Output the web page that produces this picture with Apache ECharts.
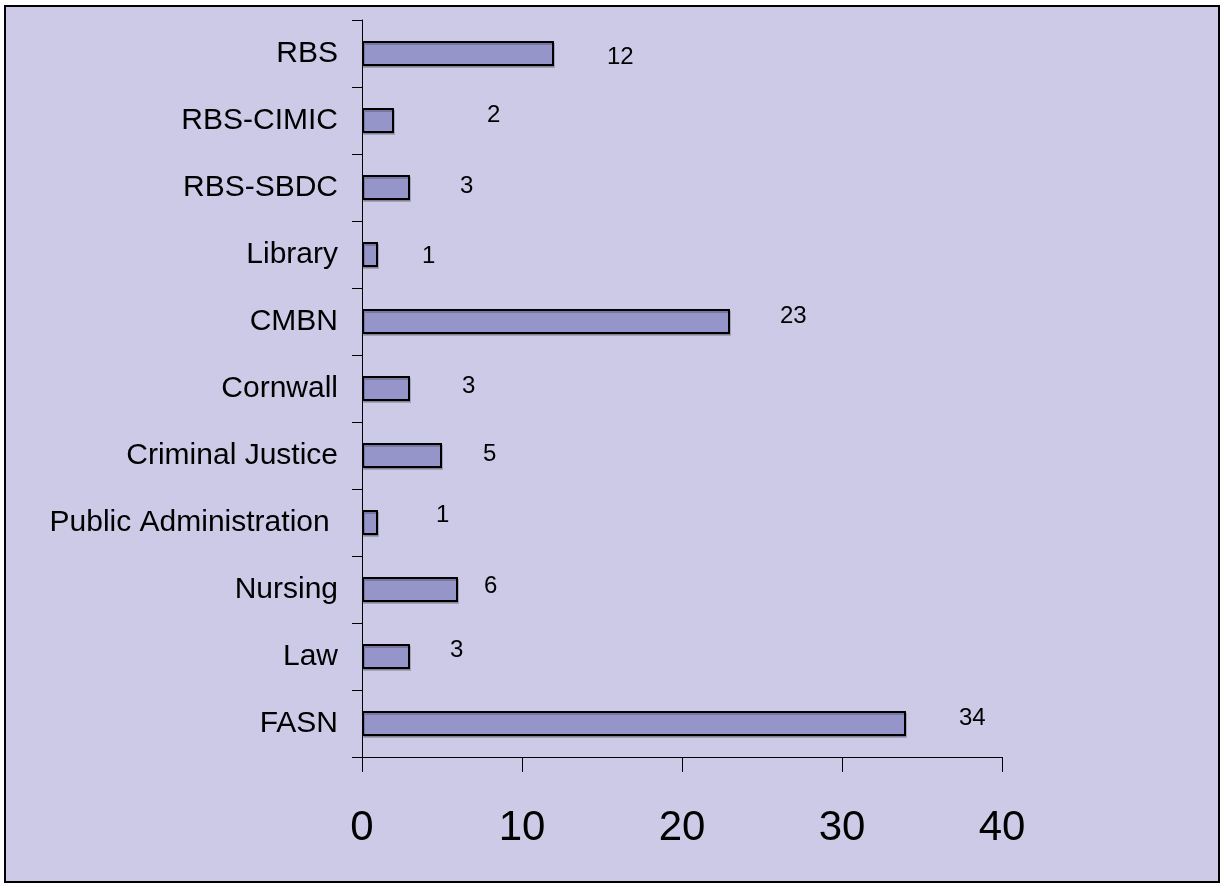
<!DOCTYPE html>
<html>
<head>
<meta charset="utf-8">
<script src="https://cdn.jsdelivr.net/npm/echarts@6/dist/echarts.min.js"></script>
<style>
  html, body { margin: 0; padding: 0; background: #ffffff; }
  #chart { width: 1224px; height: 888px; }
</style>
</head>
<body>
<div id="chart"></div>
<script>
// ---- data ----
const categories = ['RBS', 'RBS-CIMIC', 'RBS-SBDC', 'Library', 'CMBN', 'Cornwall',
  'Criminal Justice', 'Public Administration ', 'Nursing', 'Law', 'FASN'];
const counts = [12, 2, 3, 1, 23, 3, 5, 1, 6, 3, 34];
const valueTicks = [0, 10, 20, 30, 40];

// per-label nudges (style only): [dx, dy] in px, as the labels were placed by hand in the original
const labelNudges = [[53, 4], [93, -5], [50, -1], [44, 2], [50, -5], [52, -2],
  [41, -1], [58, -7], [26, -3], [40, -6], [53, -5]];

const BG = '#CCCAE6';
const BAR = '#9595C9';
const FONT = 'Liberation Sans, Arial, sans-serif';

const chart = echarts.init(document.getElementById('chart'), null, { renderer: 'canvas' });

const seriesData = counts.map((v, i) => ({
  value: v,
  label: { offset: labelNudges[i] }
}));

chart.setOption({
  backgroundColor: '#ffffff',
  animation: false,
  graphic: {
    z: -100,
    elements: [{
      type: 'rect',
      z: -100,
      silent: true,
      shape: { x: 5, y: 6, width: 1214, height: 876 },
      style: { fill: BG, stroke: '#000000', lineWidth: 2 }
    }]
  },
  grid: { left: 362, top: 20, right: 222, bottom: 131, containLabel: false },
  xAxis: {
    type: 'value',
    min: valueTicks[0],
    max: valueTicks[valueTicks.length - 1],
    interval: valueTicks[1] - valueTicks[0],
    axisLine: { show: true, lineStyle: { color: '#000000', width: 1 } },
    axisTick: { show: true, length: 15, lineStyle: { color: '#000000', width: 1 } },
    splitLine: { show: false },
    axisLabel: { fontSize: 42, color: '#000000', fontFamily: FONT, margin: 50 }
  },
  yAxis: {
    type: 'category',
    data: categories,
    inverse: true,
    axisLine: { show: true, lineStyle: { color: '#000000', width: 1 } },
    axisTick: { show: true, length: 10, alignWithLabel: false, lineStyle: { color: '#000000', width: 1 } },
    axisLabel: { fontSize: 30, color: '#000000', fontFamily: FONT, margin: 24 },
    splitLine: { show: false }
  },
  series: [{
    type: 'bar',
    data: seriesData,
    barWidth: 25,
    itemStyle: {
      color: BAR,
      borderColor: '#000000',
      borderWidth: 2,
      shadowColor: 'rgba(0,0,0,0.2)',
      shadowOffsetX: 1,
      shadowOffsetY: 2,
      shadowBlur: 0
    },
    label: {
      show: true,
      position: 'right',
      distance: 0,
      fontSize: 24,
      color: '#000000',
      fontFamily: FONT
    }
  }]
});
</script>
</body>
</html>
